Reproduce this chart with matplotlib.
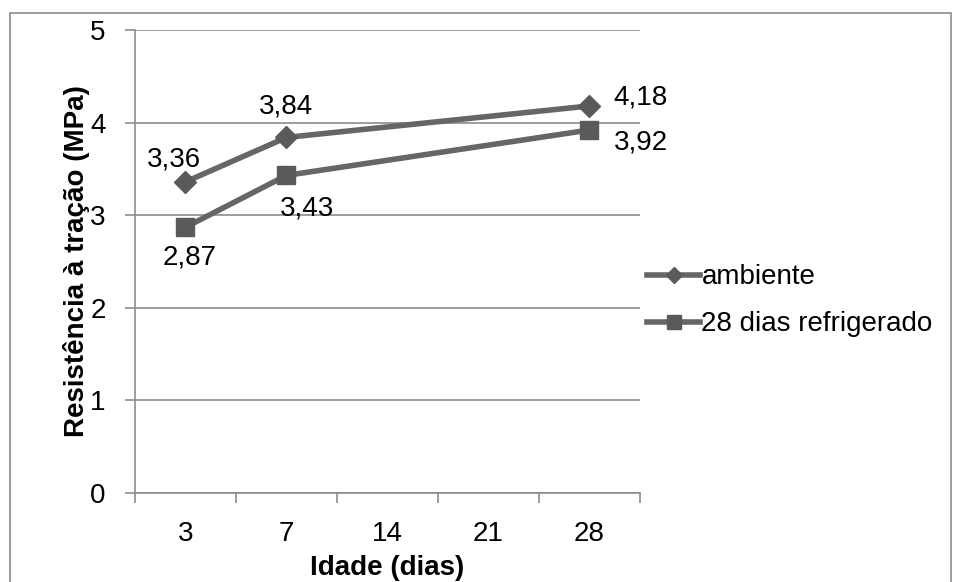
import matplotlib
matplotlib.use("Agg")
from matplotlib import pyplot as plt
from matplotlib.patches import Rectangle

plt.rcParams['font.family'] = ['Liberation Sans', 'DejaVu Sans']

# Data
categories = ["3", "7", "14", "21", "28"]
amb_idx = [0, 1, 4]
amb_vals = [3.36, 3.84, 4.18]
ref_idx = [0, 1, 4]
ref_vals = [2.87, 3.43, 3.92]
amb_labels = ["3,36", "3,84", "4,18"]
ref_labels = ["2,87", "3,43", "3,92"]

line_color = "#666666"
mark_color = "#5a5a5a"
grid_color = "#8c8c8c"
fs = 20

fig = plt.figure(figsize=(9.54, 5.82), dpi=100)
ax = fig.add_axes([135 / 954, 1 - 493 / 582, 505 / 954, 463 / 582])

# outer frame
fig.patches.append(Rectangle((10 / 954, -0.01), 941 / 954, 1 - 13 / 582 + 0.01, transform=fig.transFigure,
                             fill=False, edgecolor="#8c8c8c", linewidth=1.2))

ax.plot(amb_idx, amb_vals, color=line_color, linewidth=4, marker="D", markersize=11,
        markerfacecolor=mark_color, markeredgecolor=mark_color, label="ambiente", zorder=3)
ax.plot(ref_idx, ref_vals, color=line_color, linewidth=4, marker="s", markersize=13,
        markerfacecolor=mark_color, markeredgecolor=mark_color, label="28 dias refrigerado", zorder=3)

# data labels
amb_off = [(-8, 16), (0, 22), (37, 6)]
ref_off = [(3, -22), (15, -24), (37, -9)]
for i, v, t, o in zip(amb_idx, amb_vals, amb_labels, amb_off):
    ax.annotate(t, (i, v), xytext=o, textcoords="offset points", ha="center", va="center", fontsize=fs)
for i, v, t, o in zip(ref_idx, ref_vals, ref_labels, ref_off):
    ax.annotate(t, (i, v), xytext=o, textcoords="offset points", ha="center", va="center", fontsize=fs)

ax.set_xlim(-0.5, 4.5)
ax.set_ylim(0, 5)
ax.set_xticks(range(len(categories)))
ax.set_xticklabels(categories, fontsize=fs)
ax.set_xticks([-0.5, 0.5, 1.5, 2.5, 3.5, 4.5], minor=True)
ax.set_yticks([0, 1, 2, 3, 4, 5])
ax.set_yticklabels(["0", "1", "2", "3", "4", "5"], fontsize=fs)
ax.tick_params(axis="x", which="major", length=0, pad=20)
ax.tick_params(axis="x", which="minor", length=7, color=grid_color, width=1.2)
ax.tick_params(axis="y", length=7, color=grid_color, width=1.2, direction="out", pad=14)
ax.yaxis.grid(True, color=grid_color, linewidth=1.2)
ax.set_axisbelow(True)

for s in ["top", "right"]:
    ax.spines[s].set_visible(False)
for s in ["left", "bottom"]:
    ax.spines[s].set_color(grid_color)
    ax.spines[s].set_linewidth(1.2)

ax.set_xlabel("Idade (dias)", fontsize=fs, fontweight="bold", labelpad=6)
ax.set_ylabel("Resistência à tração (MPa)", fontsize=fs, fontweight="bold", labelpad=0)

ax.legend(loc="center left", bbox_to_anchor=(0.965, 0.415), frameon=False, fontsize=fs,
          handlelength=1.9, handletextpad=0.05, labelspacing=0.75, markerscale=0.75)

fig.savefig("out.png", dpi=100)
